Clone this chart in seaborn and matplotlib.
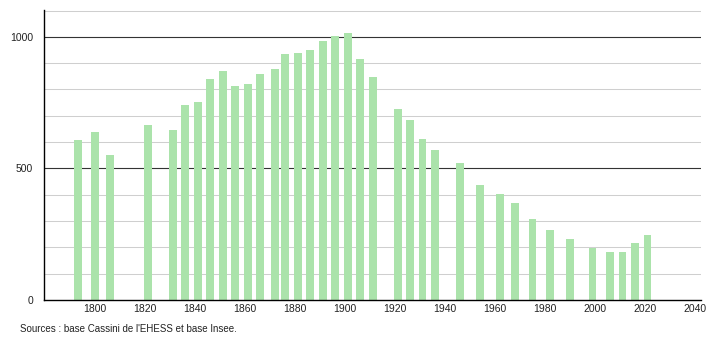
import matplotlib
matplotlib.use("Agg")
import matplotlib.pyplot as plt
import seaborn as sns
import pandas as pd

years = [1793, 1800, 1806, 1821, 1831, 1836, 1841, 1846, 1851, 1856, 1861, 1866,
         1872, 1876, 1881, 1886, 1891, 1896, 1901, 1906, 1911, 1921, 1926, 1931,
         1936, 1946, 1954, 1962, 1968, 1975, 1982, 1990, 1999, 2006, 2011, 2016, 2021]
population = [608, 640, 551, 665, 646, 741, 753, 839, 871, 814, 821, 859,
              878, 935, 939, 951, 985, 1004, 1015, 915, 848, 726, 684, 611,
              570, 520, 437, 404, 368, 307, 266, 232, 196, 184, 184, 215, 247]
xticks = [1800, 1820, 1840, 1860, 1880, 1900, 1920, 1940, 1960, 1980, 2000, 2020, 2040]
yticks_major = [0, 500, 1000]
source_text = "Sources : base Cassini de l'EHESS et base Insee."

df = pd.DataFrame({"year": years, "pop": population})

sns.set_style("white")
plt.rcParams["font.family"] = ["Liberation Sans", "DejaVu Sans"]

fig = plt.figure(figsize=(7.1, 3.4), dpi=100)
ax = fig.add_axes([44 / 710, 1 - 300 / 340, (701 - 44) / 710, 290 / 340])

for v in range(100, 1101, 100):
    if v in (500, 1000):
        ax.axhline(v, color="#333333", lw=0.8, zorder=0)
    else:
        ax.axhline(v, color="#cfcfcf", lw=0.75, zorder=0)

sns.barplot(data=df, x="year", y="pop", native_scale=True, width=0.8,
            color="#abe3ab", saturation=1, edgecolor="none", ax=ax, zorder=2)

ax.set_xlim(1779.6, 2042.4)
ax.set_ylim(0, 1102)
ax.set_xticks(xticks)
ax.set_xticklabels([str(t) for t in xticks])
ax.set_yticks(list(range(0, 1101, 100)))
ax.set_yticklabels([str(v) if v in yticks_major else "" for v in range(0, 1101, 100)])
ax.tick_params(axis="x", length=0, labelsize=7.5, colors="#222222", pad=3)
ax.tick_params(axis="y", length=3, width=0.8, labelsize=7.5, colors="#222222", pad=5)
ax.set_xlabel("")
ax.set_ylabel("")
for s in ["top", "right"]:
    ax.spines[s].set_visible(False)
for s in ["left", "bottom"]:
    ax.spines[s].set_color("#000000")
    ax.spines[s].set_linewidth(1.0)
    ax.spines[s].set_zorder(3)

fig.text(20 / 710, 1 - 329 / 340, source_text, fontsize=7, color="#222222",
         va="center", ha="left")

fig.savefig("out.png", dpi=100)
